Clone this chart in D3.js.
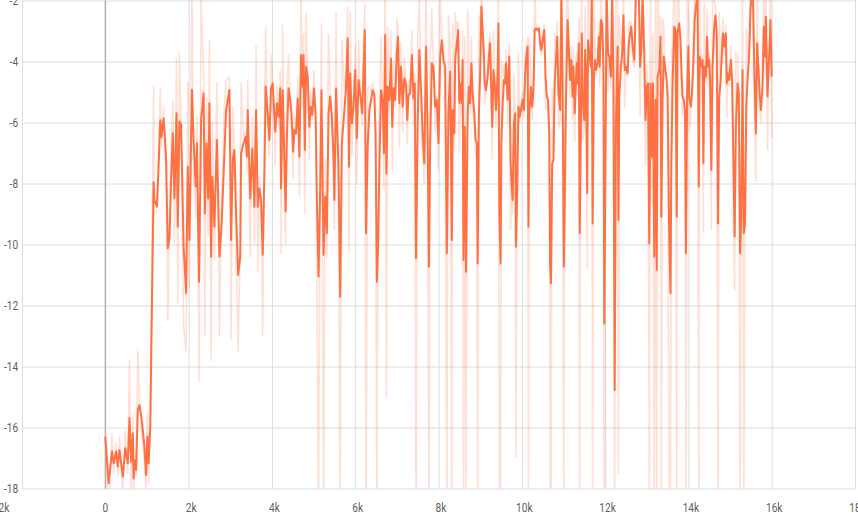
<!DOCTYPE html>
<html>
<head>
<meta charset="utf-8">
<script src="https://cdn.jsdelivr.net/npm/d3@7"></script>
<style>
  body { margin: 0; background: #fff; overflow: hidden; }
  .tick text {
    font-family: Roboto, "Liberation Sans", sans-serif;
    font-size: 13px;
    fill: #5f5f5f;
  }
  .tick line { stroke: #dcdcdc; }
</style>
</head>
<body>
<div id="chart"></div>
<script>
// Tick values
const xTicks = d3.range(-2000, 18001, 2000);
const yTicks = d3.range(-18, -1, 2);

// Training steps (shared by both series)
const steps = [
  0, 80, 160, 200, 260, 300, 340, 420, 480, 540,
  580, 620, 660, 680, 710, 740, 780, 820, 880, 940,
  980, 1010, 1040, 1080, 1160, 1180, 1240, 1280, 1320, 1350,
  1400, 1430, 1460, 1500, 1540, 1580, 1620, 1660, 1710, 1740,
  1780, 1820, 1880, 1940, 1980, 2020, 2080, 2120, 2170, 2200,
  2250, 2300, 2360, 2390, 2430, 2470, 2500, 2540, 2570, 2620,
  2680, 2740, 2790, 2860, 2900, 2980, 3020, 3060, 3100, 3140,
  3190, 3240, 3260, 3320, 3370, 3400, 3420, 3480, 3530, 3580,
  3620, 3660, 3700, 3740, 3780, 3820, 3850, 3900, 3940, 3980,
  4020,
  4080, 4120, 4160, 4200, 4220, 4260, 4300, 4330, 4360, 4400,
  4440, 4470, 4510, 4540, 4580, 4620, 4660, 4700, 4740, 4760,
  4790, 4820, 4860, 4900, 4930, 4970, 5010, 5050, 5080, 5120,
  5160, 5190, 5240, 5280, 5320, 5360, 5400, 5440, 5480, 5500,
  5540, 5560, 5600, 5640, 5680, 5740, 5780, 5820, 5850, 5880,
  5920, 5960, 6000, 6040, 6080, 6120, 6170, 6200, 6230, 6260,
  6300, 6340, 6380, 6420, 6460, 6490, 6520, 6550, 6580, 6620,
  6660, 6690, 6720, 6750, 6780, 6820, 6860, 6890, 6920, 6960,
  7000, 7030, 7060, 7100, 7140, 7180, 7220, 7250, 7280, 7320,
  7360, 7400, 7430, 7460, 7500, 7540, 7590, 7620, 7660, 7700,
  7740, 7770, 7800, 7840, 7880, 7920, 7960, 8000, 8040, 8080,
  8120,
  8160, 8200, 8240, 8280, 8320, 8340, 8380, 8400, 8440, 8470,
  8500, 8540, 8560, 8580, 8600, 8630, 8660, 8700, 8730, 8760,
  8790, 8820, 8860, 8890, 8920, 8940, 8970, 9000, 9030, 9060,
  9090, 9110, 9140, 9180, 9210, 9240, 9260, 9290, 9320, 9350,
  9380, 9420, 9440, 9460, 9490, 9510, 9540, 9570, 9600, 9620,
  9660, 9680, 9700, 9730, 9750, 9780, 9810, 9840, 9860, 9890,
  9920, 9950, 9980, 10020, 10050, 10080, 10100, 10140, 10160, 10180,
  10220, 10250, 10280, 10310, 10340, 10380, 10410, 10440, 10470, 10500,
  10540, 10570, 10600, 10630, 10660, 10680, 10700, 10730, 10760, 10790,
  10820, 10850, 10880, 10920, 10950, 10980, 11010, 11030, 11060, 11100,
  11130, 11160, 11190, 11220, 11240, 11270, 11300, 11320, 11340, 11370,
  11390, 11420, 11440, 11460, 11500, 11520, 11540, 11570, 11590, 11620,
  11660, 11680, 11700, 11730, 11760, 11780, 11820, 11850, 11870, 11900,
  11930, 11960, 11980, 12020, 12040, 12070, 12100, 12140, 12170, 12200,
  12230, 12260, 12300, 12320, 12340, 12380, 12410, 12440, 12470, 12500,
  12540, 12570, 12600, 12630, 12660, 12700, 12720, 12740, 12780, 12810,
  12840, 12870, 12900, 12940, 12970, 13000, 13030, 13060, 13090, 13120,
  13150, 13180, 13210, 13240, 13260, 13300, 13330, 13350, 13380, 13410,
  13440, 13470, 13500, 13540, 13570, 13590, 13620, 13660, 13690, 13720,
  13740, 13780, 13810, 13830, 13860, 13890, 13920, 13940, 13970, 14000,
  14020, 14060, 14090, 14120, 14150, 14180, 14220, 14250, 14270, 14300,
  14340, 14360, 14380, 14420, 14450, 14470, 14500, 14520, 14550, 14580,
  14620, 14650, 14680, 14710, 14740, 14770, 14800, 14830, 14860, 14900,
  14920, 14950, 14980, 15020, 15050, 15080, 15110, 15140, 15180, 15210,
  15240, 15270, 15300, 15330, 15360, 15390, 15420, 15460, 15490, 15520,
  15550, 15580, 15620, 15650, 15680, 15710, 15740, 15780, 15810, 15840,
  15860, 15900, 15930, 15950, 15970, 16000
];

// Smoothed series (bright line)
const smoothed = [
  -16.30, -17.83, -16.79, -17.17, -16.79, -17.28, -16.74, -17.61, -16.68, -17.17,
  -15.70, -17.12, -16.19, -17.67, -17.07, -17.39, -15.43, -15.26, -15.81, -16.63,
  -17.56, -16.30, -17.17, -15.97, -7.96, -8.54, -8.76, -7.45, -5.93, -6.47,
  -5.86, -6.47, -7.23, -10.12, -9.80, -7.89, -6.35, -8.48, -5.70, -9.42,
  -5.97, -6.08, -10.07, -11.60, -7.45, -9.85, -4.93, -6.57, -8.10, -6.68,
  -11.22, -5.92, -5.04, -8.98, -6.68, -8.49, -5.37, -10.40, -7.78, -9.42,
  -6.57, -10.40, -9.42, -7.01, -5.59, -4.93, -9.85, -7.23, -6.90, -8.98,
  -11.00, -10.40, -7.01, -6.68, -6.47, -7.12, -5.59, -8.49, -6.85, -8.76,
  -5.59, -8.76, -8.16, -8.54, -10.34, -7.67, -4.82, -5.70, -6.57, -4.88,
  -4.72,
  -6.30, -5.37, -5.81, -4.88, -8.16, -4.94, -7.23, -8.92, -6.47, -4.88,
  -5.26, -5.70, -6.96, -6.25, -6.36, -5.21, -7.12, -3.79, -4.83, -3.79,
  -6.90, -4.17, -4.50, -6.14, -5.48, -5.75, -4.88, -5.70, -8.54, -11.05,
  -8.10, -4.94, -10.34, -8.43, -9.63, -5.70, -5.15, -5.81, -7.12, -8.54,
  -4.88, -5.70, -7.56, -11.71, -6.68, -5.59, -4.83, -3.24, -7.45, -4.39,
  -6.03, -5.48, -4.28, -6.52, -4.61, -5.04, -5.70, -4.28, -2.97, -9.63,
  -6.79, -5.59, -5.26, -4.94, -5.10, -6.36, -11.22, -10.07, -7.50, -4.94,
  -5.26, -7.01, -3.13, -7.67, -4.83, -5.26, -3.90, -6.14, -4.88, -5.26,
  -3.68, -3.19, -5.37, -4.17, -5.48, -4.55, -4.72, -5.92, -5.10, -5.04,
  -3.79, -5.21, -4.72, -10.45, -6.08, -3.62, -5.26, -6.36, -7.34, -3.51,
  -6.36, -10.73, -6.68, -4.06, -4.17, -5.48, -5.26, -6.68, -3.84, -3.30,
  -3.95,
  -4.17, -10.29, -5.59, -4.33, -9.85, -5.59, -6.36, -3.95, -3.40, -2.97,
  -5.37, -4.72, -5.37, -3.95, -10.51, -6.14, -10.89, -5.70, -4.83, -5.37,
  -4.06, -5.04, -5.70, -6.57, -6.68, -10.62, -5.70, -4.39, -2.20, -2.97,
  -3.73, -4.72, -4.94, -4.50, -3.84, -3.40, -4.50, -6.14, -4.28, -4.72,
  -5.59, -4.39, -2.75, -8.76, -10.62, -6.68, -5.37, -4.61, -4.72, -4.06,
  -5.26, -4.50, -3.84, -7.23, -7.89, -8.54, -6.03, -5.70, -10.07, -8.21,
  -5.48, -5.81, -5.59, -5.26, -5.59, -4.50, -3.95, -3.51, -9.42, -5.70,
  -4.83, -5.48, -4.94, -2.97, -2.91, -2.97, -2.91, -3.40, -3.62, -3.30,
  -2.97, -4.50, -5.15, -5.26, -6.36, -10.62, -11.27, -7.34, -7.23, -4.72,
  -3.95, -3.19, -5.04, -5.59, -1.80, -4.83, -10.73, -8.76, -5.26, -2.64,
  -3.62, -4.61, -3.95, -5.15, -4.17, -5.70, -4.61, -4.06, -4.72, -3.40,
  -9.63, -5.81, -3.08, -5.26, -5.92, -3.62, -4.28, -8.32, -3.30, -3.73,
  -4.17, -1.80, -9.31, -4.50, -3.95, -4.28, -4.06, -3.19, -4.17, -2.64,
  -2.75, -4.17, -12.59, -5.04, -1.80, -3.73, -3.84, -4.50, -1.80, -4.39,
  -14.77, -6.14, -3.51, -9.20, -5.15, -4.17, -3.73, -2.48, -4.28, -4.17,
  -4.39, -3.40, -3.08, -2.86, -3.51, -3.95, -2.97, -1.80, -1.80, -1.80,
  -4.17, -3.62, -1.80, -3.73, -5.92, -4.83, -4.72, -9.96, -4.72, -7.12,
  -4.72, -10.40, -5.26, -10.84, -4.50, -4.28, -3.19, -9.09, -5.26, -3.84,
  -4.17, -4.50, -5.04, -9.74, -11.60, -7.45, -4.72, -2.86, -2.97, -9.09,
  -3.08, -2.75, -3.30, -4.17, -5.15, -5.26, -5.59, -10.29, -5.04, -3.51,
  -5.15, -5.48, -4.94, -4.06, -2.64, -2.20, -1.80, -8.10, -3.84, -4.17,
  -3.95, -7.34, -4.17, -4.50, -3.19, -4.17, -3.95, -4.61, -7.56, -4.17,
  -2.86, -2.48, -3.08, -9.31, -5.15, -4.72, -3.84, -3.08, -3.51, -3.08,
  -4.72, -4.39, -4.61, -3.95, -4.61, -7.23, -9.74, -6.14, -4.72, -5.04,
  -10.29, -9.09, -4.28, -9.63, -9.31, -5.48, -4.61, -3.73, -2.31, -1.80,
  -1.80, -4.06, -6.36, -3.40, -4.17, -5.04, -5.59, -4.83, -2.86, -3.84,
  -2.53, -5.15, -4.06, -3.62, -2.64, -4.50
];

// Raw series (faint line behind)
const raw = [
  -16.30, -18.8, -16.2, -17.5, -16.5, -17.6, -16.3, -18.2, -16.1, -17.5,
  -13.8, -18.0, -15.6, -18.6, -16.7, -17.6, -13.5, -15.1, -16.2, -17.2,
  -18.2, -15.5, -17.8, -15.2, -4.8, -9.0, -8.9, -6.6, -4.9, -6.8,
  -5.5, -6.9, -7.7, -12.5, -9.6, -6.6, -5.3, -9.9, -3.9, -11.9,
  -3.7, -6.2, -12.7, -13.5, -4.7, -11.4, -1.5, -7.7, -9.1, -5.8,
  -14.5, -2.0, -4.4, -13.0, -5.2, -9.7, -3.3, -13.8, -6.0, -10.5,
  -4.7, -13.0, -8.8, -5.4, -4.6, -4.5, -13.1, -5.5, -6.7, -10.4,
  -13.5, -10.0, -4.7, -6.5, -6.3, -7.6, -4.6, -10.4, -5.8, -10.0,
  -3.5, -10.9, -7.8, -8.8, -13.0, -5.9, -2.9, -6.3, -7.1, -3.8,
  -4.6,
  -7.4, -4.8, -6.1, -4.3, -10.3, -2.8, -8.7, -10.0, -4.9, -3.8,
  -5.5, -6.0, -7.8, -5.8, -6.4, -4.5, -8.4, -1.6, -5.5, -3.1,
  -9.0, -2.4, -4.7, -7.2, -5.0, -5.9, -4.3, -6.2, -10.5, -19.5,
  -6.5, -2.8, -19.5, -7.2, -10.4, -3.1, -4.8, -6.2, -8.0, -9.5,
  -2.4, -6.2, -8.8, -19.5, -3.3, -4.9, -4.3, -2.2, -10.2, -2.4,
  -7.1, -5.1, -3.5, -8.0, -3.3, -5.3, -6.1, -3.3, -2.1, -19.5,
  -4.9, -4.8, -5.0, -4.7, -5.2, -7.2, -19.5, -9.3, -5.8, -3.2,
  -5.5, -8.2, -0.5, -15.0, -2.9, -5.6, -3.0, -7.6, -4.0, -5.5,
  -2.6, -2.9, -6.8, -3.4, -6.3, -3.9, -4.8, -6.7, -4.6, -5.0,
  -3.0, -6.1, -4.4, -19.5, -3.2, -2.0, -6.3, -7.1, -8.0, -1.0,
  -8.2, -19.5, -4.0, -2.3, -4.2, -6.3, -5.1, -7.6, -2.0, -2.9,
  -4.4,
  -4.3, -19.5, -2.5, -3.5, -19.0, -2.8, -6.9, -2.4, -3.0, -2.7,
  -7.0, -4.3, -5.8, -3.0, -19.5, -3.2, -19.5, -2.3, -4.3, -5.7,
  -3.2, -5.7, -6.1, -7.1, -6.8, -19.5, -2.5, -3.5, -0.8, -3.5,
  -4.2, -5.4, -5.1, -4.2, -3.4, -3.1, -5.2, -7.2, -3.0, -5.0,
  -6.2, -3.6, -1.6, -18.5, -19.5, -4.0, -4.5, -4.1, -4.8, -3.6,
  -6.0, -4.0, -3.4, -9.5, -8.3, -9.0, -4.4, -5.5, -17.0, -7.0,
  -3.7, -6.0, -5.5, -5.0, -5.8, -3.8, -3.6, -3.2, -19.0, -3.2,
  -4.3, -5.9, -4.6, -1.7, -2.9, -3.0, -2.9, -3.7, -3.8, -3.1,
  -2.8, -5.5, -5.6, -5.3, -7.0, -18.0, -19.5, -4.9, -7.2, -3.1,
  -3.5, -2.7, -6.2, -5.9, -0.5, -6.5, -19.5, -7.5, -3.1, -1.0,
  -4.2, -5.2, -3.5, -5.9, -3.6, -6.6, -3.9, -3.7, -5.1, -2.6,
  -19.0, -3.5, -1.4, -6.6, -6.3, -2.2, -4.7, -10.8, -0.3, -4.0,
  -4.4, -0.4, -19.5, -1.6, -3.6, -4.5, -3.9, -2.7, -4.8, -1.7,
  -2.8, -5.0, -19.5, -0.5, -0.5, -5.0, -3.9, -4.9, -0.5, -6.0,
  -19.5, 0.0, -2.0, -17.5, -2.5, -3.5, -3.4, -1.6, -5.5, -4.1,
  -4.5, -2.7, -2.9, -2.7, -4.0, -4.2, -2.3, -0.8, -1.5, -1.5,
  -5.8, -3.2, -0.5, -5.0, -7.4, -4.1, -4.6, -18.5, -1.2, -8.7,
  -3.1, -19.5, -1.8, -19.5, -0.5, -4.1, -2.5, -19.0, -2.6, -2.9,
  -4.4, -4.7, -5.4, -19.0, -19.5, -4.7, -2.9, -1.6, -3.0, -19.0,
  0.0, -2.5, -3.7, -4.8, -5.8, -5.3, -5.8, -19.5, -1.5, -2.5,
  -6.3, -5.7, -4.6, -3.5, -1.7, -1.9, -1.5, -19.0, -1.0, -4.4,
  -3.8, -9.6, -2.1, -4.7, -2.3, -4.8, -3.8, -5.1, -9.5, -1.9,
  -2.0, -2.2, -3.5, -19.0, -2.4, -4.4, -3.3, -2.6, -3.8, -2.8,
  -5.8, -4.2, -4.8, -3.5, -5.1, -9.0, -11.5, -3.7, -3.8, -5.3,
  -19.5, -8.3, -1.0, -19.0, -9.1, -2.9, -4.0, -3.1, -1.4, -1.5,
  -1.8, -5.6, -7.9, -1.4, -4.7, -5.6, -6.0, -4.3, -1.5, -4.5,
  -1.7, -6.9, -3.3, -3.3, -1.5, -6.5
];

// Layout
const width = 858, height = 516;
const plotLeft = 22, plotRight = 855, plotTop = 0.5, plotBottom = 488.5;
const squeeze = 0.78; // tick labels look horizontally condensed

const x = d3.scaleLinear().domain([-2000, 18000]).range([plotLeft, plotRight]);
const y = d3.scaleLinear().domain([-18, -2]).range([plotBottom, plotTop]);

const svg = d3.select("#chart").append("svg")
  .attr("width", width)
  .attr("height", height);

// Horizontal grid + y labels
svg.append("g")
  .attr("transform", `translate(${plotLeft},0)`)
  .call(d3.axisLeft(y)
    .tickValues(yTicks)
    .tickSize(-(plotRight - plotLeft))
    .tickPadding(5)
    .tickFormat(d => String(d)))
  .call(g => g.select(".domain").remove())
  .call(g => g.selectAll(".tick text").attr("transform", `scale(${squeeze},1)`));

// Vertical grid + x labels
function labelShift(d) {
  if (d === -2000) return -20; // first label sits off the left edge in the original
  if (d === 0) return -0.5;
  return 2;
}

svg.append("g")
  .call(d3.axisBottom(x)
    .tickValues(xTicks)
    .tickSize(plotBottom)
    .tickPadding(14)
    .tickFormat(d => d === 0 ? "0" : (d / 1000) + "k"))
  .call(g => g.select(".domain").remove())
  .call(g => g.selectAll(".tick text")
    .attr("transform", d => `translate(${labelShift(d)},0) scale(${squeeze},1)`));

// Darker line at step 0
svg.append("line")
  .attr("x1", x(0)).attr("x2", x(0))
  .attr("y1", y(-2)).attr("y2", y(-18))
  .attr("stroke", "#a8a8a8")
  .attr("stroke-width", 1.2);

svg.append("clipPath").attr("id", "plot-clip")
  .append("rect")
  .attr("x", plotLeft).attr("y", 0)
  .attr("width", plotRight - plotLeft)
  .attr("height", plotBottom);

const rawPoints = steps.map((s, i) => ({ step: s, value: raw[i] }));
const smoothPoints = steps.map((s, i) => ({ step: s, value: smoothed[i] }));

const line = d3.line()
  .x(d => x(d.step))
  .y(d => y(d.value));

const plot = svg.append("g").attr("clip-path", "url(#plot-clip)");

plot.append("path")
  .datum(rawPoints)
  .attr("fill", "none")
  .attr("stroke", "#ff7043")
  .attr("stroke-opacity", 0.22)
  .attr("stroke-width", 1.6)
  .attr("stroke-linejoin", "round")
  .attr("d", line);

plot.append("path")
  .datum(smoothPoints)
  .attr("fill", "none")
  .attr("stroke", "#ff7043")
  .attr("stroke-width", 2)
  .attr("stroke-linejoin", "round")
  .attr("d", line);
</script>
</body>
</html>
